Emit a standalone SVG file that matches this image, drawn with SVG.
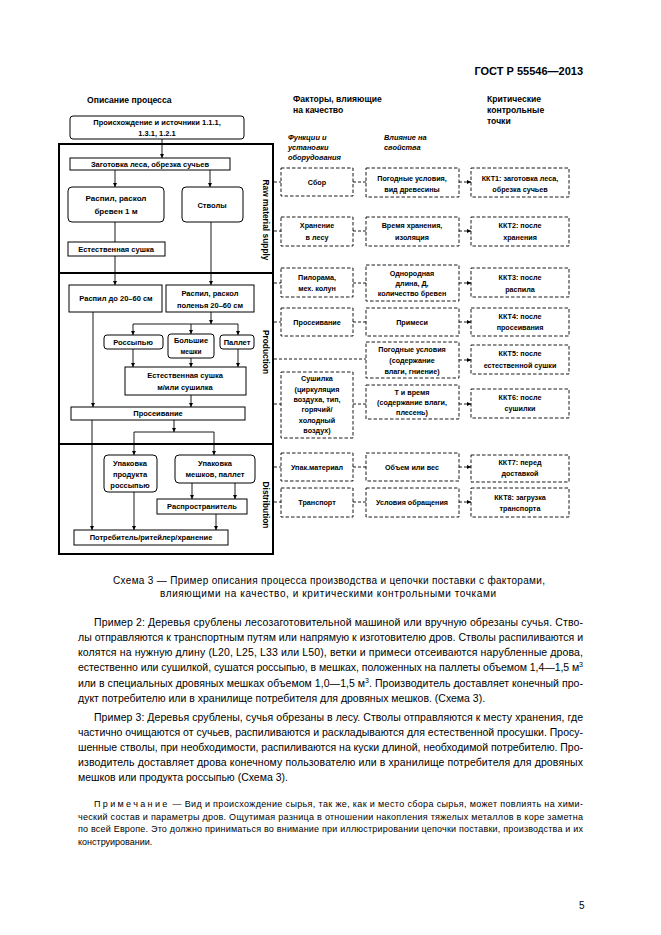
<svg xmlns="http://www.w3.org/2000/svg" width="661" height="935" viewBox="0 0 661 935">
<defs>
<marker id="ah" viewBox="0 0 6 6" refX="6" refY="3" markerWidth="4.5" markerHeight="4.5" markerUnits="userSpaceOnUse" orient="auto"><path d="M0,0 L6,3 L0,6 z" fill="#000"/></marker>
</defs>
<style>
.bx{fill:#fff;stroke:#000;stroke-width:1}
.db{fill:#fff;stroke:#000;stroke-width:0.9;stroke-dasharray:3.5 2}
.ln{fill:none;stroke:#000;stroke-width:0.9}
.ar{fill:none;stroke:#000;stroke-width:0.9;marker-end:url(#ah)}
.dl{fill:none;stroke:#000;stroke-width:0.9;stroke-dasharray:3 2}
.da{fill:none;stroke:#000;stroke-width:0.9;stroke-dasharray:3 2;marker-end:url(#ah)}
.fr{fill:none;stroke:#000;stroke-width:2}
text{font-family:"Liberation Sans",Arial,sans-serif;fill:#000}
.t{font-weight:bold;font-size:7.5px;text-anchor:middle}
.r{font-weight:bold;font-size:7.2px;text-anchor:middle}
.h{font-weight:bold;font-size:8.6px}
.i{font-weight:bold;font-style:italic;font-size:7.4px}
.lab{font-weight:bold;font-size:8.4px;text-anchor:middle}
.p{font-size:10.5px}
.n{font-size:9px}
.c{font-size:10px}
</style>
<rect width="661" height="935" fill="#fff"/>
<text x="583" y="75" text-anchor="end" style="font-weight:bold;font-size:11px">ГОСТ Р 55546—2013</text>

<text class="h" x="87" y="103">Описание процесса</text>
<text class="h" x="293" y="102">Факторы, влияющие</text>
<text class="h" x="293" y="113">на качество</text>
<text class="h" x="487" y="102">Критические</text>
<text class="h" x="487" y="113">контрольные</text>
<text class="h" x="487" y="124">точки</text>
<text class="i" x="288" y="140">Функции и</text>
<text class="i" x="288" y="150">установки</text>
<text class="i" x="288" y="160">оборудования</text>
<text class="i" x="384" y="140">Влияние на</text>
<text class="i" x="384" y="150">свойства</text>

<g id="frame">
<rect class="fr" x="59" y="144" width="214" height="410"/>
<line class="fr" x1="59" y1="273" x2="273" y2="273"/>
<line class="fr" x1="59" y1="444" x2="273" y2="444"/>
<text class="lab" transform="translate(263,220) rotate(90)">Raw material supply</text>
<text class="lab" transform="translate(263,352) rotate(90)">Production</text>
<text class="lab" transform="translate(263,505) rotate(90)">Distribution</text>
</g>

<g id="connectors">
<line class="ar" x1="162" y1="139" x2="162" y2="158"/>
<line class="ar" x1="115" y1="170" x2="115" y2="187"/>
<line class="ar" x1="210" y1="170" x2="210" y2="187"/>
<line class="ln" x1="115" y1="222" x2="115" y2="242"/>
<line class="ar" x1="115" y1="256" x2="115" y2="285"/>
<line class="ar" x1="211" y1="222" x2="211" y2="285"/>
<line class="ar" x1="93" y1="312" x2="93" y2="407"/>
<line class="ar" x1="211" y1="312" x2="211" y2="324"/>
<line class="ln" x1="133" y1="324" x2="238" y2="324"/>
<line class="ar" x1="133" y1="324" x2="133" y2="335"/>
<line class="ar" x1="191" y1="324" x2="191" y2="334"/>
<line class="ar" x1="238" y1="324" x2="238" y2="335"/>
<line class="ar" x1="133" y1="349" x2="133" y2="367"/>
<line class="ar" x1="191" y1="358" x2="191" y2="367"/>
<line class="ar" x1="238" y1="349" x2="238" y2="367"/>
<line class="ar" x1="191" y1="395" x2="191" y2="407"/>
<line class="ar" x1="92" y1="420" x2="92" y2="530"/>
<line class="ar" x1="174" y1="420" x2="174" y2="432"/>
<line class="ln" x1="134" y1="432" x2="214" y2="432"/>
<line class="ar" x1="134" y1="432" x2="134" y2="455"/>
<line class="ar" x1="214" y1="432" x2="214" y2="455"/>
<line class="ar" x1="134" y1="492" x2="134" y2="530"/>
<line class="ar" x1="192" y1="483" x2="192" y2="499"/>
<line class="ar" x1="235" y1="483" x2="235" y2="499"/>
<line class="ar" x1="216" y1="514" x2="216" y2="530"/>
<line class="dl" x1="274" y1="182" x2="281" y2="182"/>
<line class="dl" x1="274" y1="231" x2="281" y2="231"/>
<line class="dl" x1="274" y1="283" x2="281" y2="283"/>
<line class="dl" x1="274" y1="322" x2="281" y2="322"/>
<line class="dl" x1="274" y1="359" x2="366" y2="359"/>
<line class="dl" x1="274" y1="404" x2="281" y2="404"/>
<line class="dl" x1="274" y1="467" x2="281" y2="467"/>
<line class="dl" x1="274" y1="502" x2="281" y2="502"/>
<line class="dl" x1="353" y1="182" x2="366" y2="182"/>
<line class="dl" x1="353" y1="231" x2="366" y2="231"/>
<line class="dl" x1="353" y1="283" x2="366" y2="283"/>
<line class="dl" x1="353" y1="322" x2="366" y2="322"/>
<line class="dl" x1="353" y1="404" x2="366" y2="404"/>
<line class="dl" x1="353" y1="467" x2="366" y2="467"/>
<line class="dl" x1="353" y1="502" x2="366" y2="502"/>
<line class="da" x1="459" y1="182" x2="471" y2="182"/>
<line class="da" x1="459" y1="231" x2="471" y2="231"/>
<line class="da" x1="459" y1="283" x2="471" y2="283"/>
<line class="da" x1="459" y1="322" x2="471" y2="322"/>
<line class="da" x1="459" y1="360" x2="471" y2="360"/>
<line class="da" x1="459" y1="404" x2="471" y2="404"/>
<line class="da" x1="459" y1="467" x2="471" y2="467"/>
<line class="da" x1="459" y1="502" x2="471" y2="502"/>
</g>

<g id="n-origin"><rect class="bx" x="70" y="116" width="174" height="23" rx="3"/><text class="t" x="157" y="125">Происхождение и источники 1.1.1,</text><text class="t" x="157" y="136">1.3.1, 1.2.1</text></g>
<g id="n-harvest"><rect class="bx" x="70" y="158" width="160" height="12"/><text class="t" x="150" y="167">Заготовка леса, обрезка сучьев</text></g>
<g id="n-saw1m"><rect class="bx" x="68" y="187" width="96" height="35" rx="4"/><text class="t" x="116" y="201" style="font-size:8px">Распил, раскол</text><text class="t" x="116" y="214" style="font-size:8px">бревен 1 м</text></g>
<g id="n-trunks"><rect class="bx" x="182" y="187" width="61" height="35" rx="4"/><text class="t" x="212" y="208">Стволы</text></g>
<g id="n-natdry"><rect class="bx" x="68" y="242" width="97" height="14"/><text class="t" x="116" y="252">Естественная сушка</text></g>
<g id="n-saw2060"><rect class="bx" x="69" y="285" width="93" height="27"/><text class="t" x="116" y="301">Распил до 20–60 см</text></g>
<g id="n-split2060"><rect class="bx" x="166" y="285" width="88" height="27"/><text class="t" x="210" y="296">Распил, раскол</text><text class="t" x="210" y="308">поленья 20–60 см</text></g>
<g id="n-bulk"><rect class="bx" x="104" y="335" width="59" height="14" rx="3"/><text class="t" x="133" y="345">Россыпью</text></g>
<g id="n-bigbags"><rect class="bx" x="168" y="334" width="46" height="24" rx="3"/><text class="t" x="191" y="343">Большие</text><text class="t" x="191" y="354" style="font-size:6.5px">мешки</text></g>
<g id="n-pallet"><rect class="bx" x="220" y="335" width="34" height="14" rx="3"/><text class="t" x="237" y="345">Паллет</text></g>
<g id="n-dry2"><rect class="bx" x="125" y="367" width="121" height="28"/><text class="t" x="185" y="378">Естественная сушка</text><text class="t" x="185" y="390">м/или сушилка</text></g>
<g id="n-sieve"><rect class="bx" x="71" y="407" width="174" height="13"/><text class="t" x="158" y="416">Просеивание</text></g>
<g id="n-packbulk"><rect class="bx" x="104" y="455" width="53" height="37" rx="4"/><text class="t" x="130" y="466">Упаковка</text><text class="t" x="130" y="477">продукта</text><text class="t" x="130" y="488">россыпью</text></g>
<g id="n-packbags"><rect class="bx" x="175" y="455" width="80" height="28" rx="4"/><text class="t" x="215" y="466">Упаковка</text><text class="t" x="215" y="477">мешков, паллет</text></g>
<g id="n-distrib"><rect class="bx" x="157" y="499" width="90" height="15"/><text class="t" x="202" y="509">Распространитель</text></g>
<g id="n-consumer"><rect class="bx" x="74" y="530" width="154" height="15"/><text class="t" x="151" y="540">Потребитель/ритейлер/хранение</text></g>

<g id="f-collect"><rect class="db" x="281" y="168" width="72" height="28"/><text class="r" x="317" y="185">Сбор</text></g>
<g id="q-weather"><rect class="db" x="366" y="168" width="93" height="29"/><text class="r" x="412" y="181">Погодные условия,</text><text class="r" x="412" y="192">вид древесины</text></g>
<g id="k-1"><rect class="db" x="471" y="168" width="98" height="29"/><text class="r" x="520" y="181">ККТ1: заготовка леса,</text><text class="r" x="520" y="192">обрезка сучьев</text></g>

<g id="f-store"><rect class="db" x="281" y="217" width="72" height="29"/><text class="r" x="317" y="228">Хранение</text><text class="r" x="317" y="240">в лесу</text></g>
<g id="q-time"><rect class="db" x="366" y="217" width="93" height="29"/><text class="r" x="412" y="228">Время хранения,</text><text class="r" x="412" y="240">изоляция</text></g>
<g id="k-2"><rect class="db" x="471" y="217" width="98" height="29"/><text class="r" x="520" y="228">ККТ2: после</text><text class="r" x="520" y="240">хранения</text></g>

<g id="f-sawmill"><rect class="db" x="281" y="268" width="72" height="29"/><text class="r" x="317" y="280">Пилорама,</text><text class="r" x="317" y="291">мех. колун</text></g>
<g id="q-uniform"><rect class="db" x="366" y="265" width="93" height="36"/><text class="r" x="412" y="276">Однородная</text><text class="r" x="412" y="286">длина, Д,</text><text class="r" x="412" y="296">количество бревен</text></g>
<g id="k-3"><rect class="db" x="471" y="268" width="98" height="29"/><text class="r" x="520" y="280">ККТ3: после</text><text class="r" x="520" y="292">распила</text></g>

<g id="f-sieve"><rect class="db" x="281" y="308" width="72" height="28"/><text class="r" x="317" y="325">Просеивание</text></g>
<g id="q-impur"><rect class="db" x="366" y="308" width="93" height="28"/><text class="r" x="412" y="325">Примеси</text></g>
<g id="k-4"><rect class="db" x="471" y="308" width="98" height="28"/><text class="r" x="520" y="319">ККТ4: после</text><text class="r" x="520" y="330">просеивания</text></g>

<g id="q-weather2"><rect class="db" x="366" y="342" width="93" height="36"/><text class="r" x="412" y="352">Погодные условия</text><text class="r" x="412" y="363">(содержание</text><text class="r" x="412" y="374">влаги, гниение)</text></g>
<g id="k-5"><rect class="db" x="471" y="345" width="98" height="29"/><text class="r" x="520" y="356">ККТ5: после</text><text class="r" x="520" y="368">естественной сушки</text></g>

<g id="f-dryer"><rect class="db" x="281" y="372" width="72" height="66"/><text class="r" x="317" y="381">Сушилка</text><text class="r" x="317" y="392">(циркуляция</text><text class="r" x="317" y="402">воздуха, тип,</text><text class="r" x="317" y="412">горячий/</text><text class="r" x="317" y="423">холодный</text><text class="r" x="317" y="433">воздух)</text></g>
<g id="q-temp"><rect class="db" x="366" y="385" width="93" height="34"/><text class="r" x="412" y="395">Т и время</text><text class="r" x="412" y="405">(содержание влаги,</text><text class="r" x="412" y="415">плесень)</text></g>
<g id="k-6"><rect class="db" x="471" y="389" width="98" height="29"/><text class="r" x="520" y="400">ККТ6: после</text><text class="r" x="520" y="411">сушилки</text></g>

<g id="f-pack"><rect class="db" x="281" y="453" width="72" height="28"/><text class="r" x="317" y="470">Упак.материал</text></g>
<g id="q-volume"><rect class="db" x="366" y="453" width="93" height="28"/><text class="r" x="412" y="470">Объем или вес</text></g>
<g id="k-7"><rect class="db" x="471" y="455" width="98" height="27"/><text class="r" x="520" y="465">ККТ7: перед</text><text class="r" x="520" y="476">доставкой</text></g>

<g id="f-transport"><rect class="db" x="281" y="488" width="72" height="29"/><text class="r" x="317" y="505">Транспорт</text></g>
<g id="q-handling"><rect class="db" x="366" y="488" width="93" height="29"/><text class="r" x="412" y="505">Условия обращения</text></g>
<g id="k-8"><rect class="db" x="471" y="488" width="98" height="29"/><text class="r" x="520" y="500">ККТ8: загрузка</text><text class="r" x="520" y="511">транспорта</text></g>

<text class="c" x="113" y="584" textLength="432">Схема 3 — Пример описания процесса производства и цепочки поставки с факторами,</text>
<text class="c" x="160" y="597" textLength="336">влияющими на качество, и критическими контрольными точками</text>

<text class="p" x="94" y="626" textLength="489">Пример 2:  Деревья срублены лесозаготовительной машиной или вручную обрезаны сучья. Ство-</text>
<text class="p" x="78" y="641" textLength="505">лы отправляются к транспортным путям или напрямую к изготовителю дров. Стволы распиливаются и</text>
<text class="p" x="78" y="656" textLength="505">колятся на нужную длину (L20, L25, L33 или L50), ветки и примеси отсеиваются нарубленные дрова,</text>
<text class="p" x="78" y="671" textLength="505">естественно или сушилкой, сушатся россыпью, в мешках, положенных на паллеты объемом 1,4—1,5 м<tspan dy="-4" font-size="7">3</tspan></text>
<text class="p" x="78" y="687" textLength="505">или в специальных дровяных мешках объемом 1,0—1,5 м<tspan dy="-4" font-size="7">3</tspan><tspan dy="4">. Производитель доставляет конечный про-</tspan></text>
<text class="p" x="78" y="702">дукт потребителю или в хранилище потребителя для дровяных мешков. (Схема 3).</text>

<text class="p" x="94" y="721" textLength="489">Пример 3: Деревья срублены, сучья обрезаны в лесу. Стволы отправляются к месту хранения, где</text>
<text class="p" x="78" y="736" textLength="505">частично очищаются от сучьев, распиливаются и раскладываются для естественной просушки. Просу-</text>
<text class="p" x="78" y="751" textLength="505">шенные стволы, при необходимости, распиливаются на куски длиной, необходимой потребителю. Про-</text>
<text class="p" x="78" y="766" textLength="505">изводитель доставляет дрова конечному пользователю или в хранилище потребителя для дровяных</text>
<text class="p" x="78" y="781">мешков или продукта россыпью (Схема 3).</text>

<text class="n" x="94" y="807" textLength="489"><tspan letter-spacing="2">Примечание</tspan> — Вид и происхождение сырья, так же, как и место сбора сырья, может повлиять на хими-</text>
<text class="n" x="78" y="820" textLength="505">ческий состав и параметры дров. Ощутимая разница в отношении накопления тяжелых металлов в коре заметна</text>
<text class="n" x="78" y="832" textLength="505">по всей Европе. Это должно приниматься во внимание при иллюстрировании цепочки поставки, производства и их</text>
<text class="n" x="78" y="845">конструировании.</text>

<text x="579" y="909" style="font-size:10px">5</text>
</svg>
